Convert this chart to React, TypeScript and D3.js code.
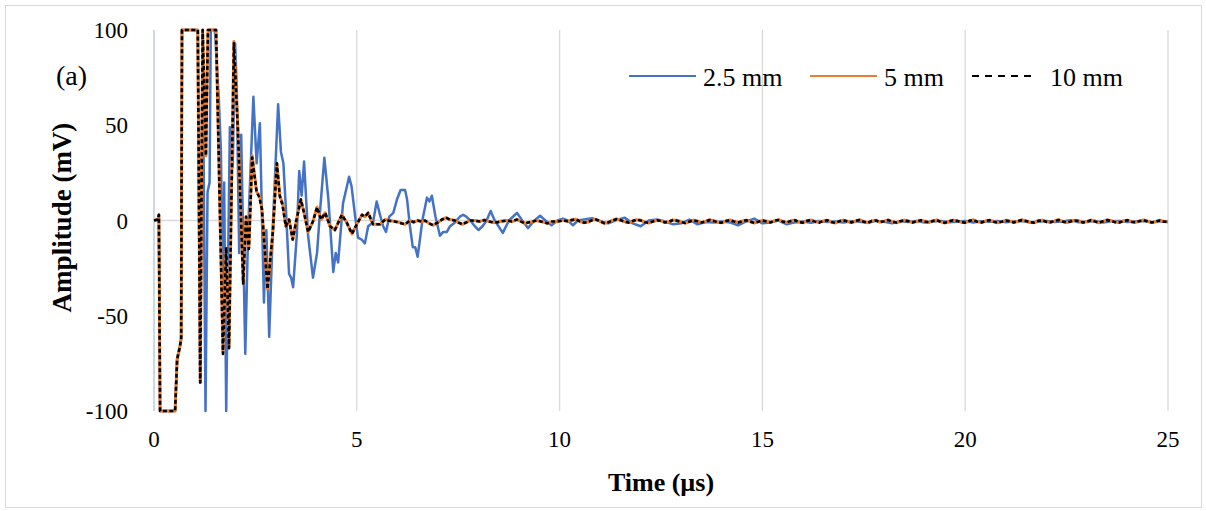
import React, { useRef, useEffect } from 'react';
import * as d3 from 'd3';

// values: [time (µs), amplitude (mV)]
const early25mm: [number, number][] = [
  [0, 0], [0.1, 0.5], [0.12, 3], [0.15, -100], [0.52, -100], [0.57, -73], [0.64, -66], [0.67, -62],
  [0.69, 100], [1.08, 100], [1.14, -85], [1.2, 100], [1.27, -100], [1.32, 15], [1.37, 20], [1.4, 100],
  [1.5, 100], [1.6, 63], [1.65, 36], [1.7, -50], [1.73, 20], [1.78, -100], [1.87, 49], [1.94, 28],
  [2.0, 93], [2.04, 70], [2.1, -17], [2.15, 45], [2.25, -70], [2.32, -6], [2.45, 65], [2.53, 30],
  [2.61, 51], [2.71, -43], [2.77, -5], [2.84, -61], [2.94, 2], [3.06, 61], [3.13, 36], [3.19, 30],
  [3.25, 7], [3.33, -28], [3.38, -30], [3.43, -35], [3.52, -8], [3.58, 26], [3.64, 13], [3.7, 31],
  [3.8, -8], [3.92, -30], [4.02, -17], [4.09, 4], [4.2, 33], [4.3, 11], [4.42, -27], [4.48, -17],
  [4.54, -22], [4.66, 9], [4.81, 23], [4.87, 18], [4.96, 2], [5.03, -9], [5.12, -10], [5.2, -12],
  [5.28, -3], [5.4, -1], [5.49, 10], [5.56, 4], [5.65, -3], [5.72, -6], [5.8, 2], [5.9, 4],
  [5.99, 11], [6.08, 16], [6.19, 16], [6.24, 11], [6.31, -3], [6.38, -14], [6.44, -14], [6.5, -19],
  [6.62, 0.5], [6.73, 12], [6.79, 10], [6.85, 13], [6.94, 2], [7.05, -8], [7.13, -6], [7.22, -6],
  [7.3, -3], [7.42, -1], [7.54, 2], [7.62, 3], [7.7, 2], [7.8, 0], [7.91, -3], [8.0, -5],
  [8.1, -3], [8.2, 0], [8.3, 5], [8.4, 0], [8.6, -6.5], [8.75, 0], [8.95, 4], [9.08, 0],
  [9.22, -4], [9.38, 0], [9.52, 2.5], [9.65, 0], [9.8, -2.5], [9.95, 0], [10.08, 1], [10.2, 0],
  [10.33, -2.5], [10.45, 0],
];
const tail25mmStart = 10.6;
const tail25mmStep = 0.2;
const tail25mm = [
  0.5, 1.2, -0.5, -1.5, 0.2, 1.5, -1.5, -3.0, 0.0, 0.5,
  -0.5, -2.0, -1.5, 0.5, -2.0, -0.8, -1.0, -0.5, -1.0, -2.5,
  -0.5, 1.0, -1.5, -1.0, 0.0, -2.0, -1.0, -0.5, -1.2, -0.3,
  -0.8, -0.5, -1.0, -0.4, -0.6, -1.2, -0.2, -0.7, -1.5, -0.4,
  -0.8, -0.3, -1.0, -0.5, -0.2, -0.9, -0.6, -0.3, -1.0, -0.4,
  -0.7, -0.2, -0.9, -0.5, -0.3, -1.0, -0.6, -0.2, -0.8, -0.5,
  0.1, -0.9, -0.6, -0.3, -1.0, -0.4, -0.2, -0.8, -0.5, -0.3,
  -0.9, -0.4, -0.6,
];

const early5mm: [number, number][] = [
  [0, 0], [0.1, 0.5], [0.12, 3], [0.15, -100], [0.52, -100], [0.57, -73], [0.64, -66], [0.67, -62],
  [0.69, 100], [1.08, 100], [1.14, -85], [1.2, 100], [1.28, 34], [1.33, 100], [1.53, 100], [1.7, -69],
  [1.78, -15], [1.85, -66], [1.97, 94], [2.07, 48], [2.2, -33], [2.27, 2], [2.34, -14], [2.42, 34],
  [2.53, 15], [2.6, 13], [2.66, 6], [2.8, -36], [2.93, -6], [3.03, 30], [3.1, 13], [3.17, 9],
  [3.25, -3], [3.33, 0.5], [3.42, -10], [3.5, -1], [3.62, 11], [3.7, 4], [3.8, -6], [3.92, -0.5],
  [4.02, 7], [4.12, 0.5], [4.22, 4], [4.34, -3], [4.46, -5], [4.63, 3], [4.75, -1], [4.88, -7],
  [5.0, -2], [5.13, 3], [5.2, 2], [5.28, 4], [5.4, -2], [5.57, -2], [5.7, 0.5], [5.82, 0],
  [5.94, -0.5], [6.05, -1], [6.19, -2], [6.31, 0], [6.4, -1], [6.5, 0], [6.6, -0.5], [6.68, 0],
  [6.78, -1.5], [6.88, -2.5], [7.0, -1], [7.1, 0.5], [7.2, 1.5], [7.3, 0.5], [7.42, 0], [7.5, -1],
  [7.6, -2], [7.7, -1], [7.8, 0], [7.92, 0], [8.04, -0.5], [8.15, 0.3], [8.25, -0.5], [8.36, -1],
  [8.45, -1], [8.58, -0.3], [8.7, 0], [8.82, -0.6], [8.95, 0.5], [9.05, -0.5], [9.15, -1.5], [9.3, -0.8],
  [9.44, 0], [9.58, -0.7], [9.7, -1.5], [9.82, -0.6], [9.95, -0.5], [10.1, 0.2],
];
const early10mm: [number, number][] = [
  [0, 0], [0.1, 0.5], [0.12, 3], [0.15, -100], [0.52, -100], [0.57, -73], [0.64, -66], [0.67, -62],
  [0.69, 100], [1.08, 100], [1.14, -85], [1.2, 100], [1.28, 34], [1.33, 100], [1.53, 100], [1.7, -70],
  [1.78, -14], [1.85, -67], [1.97, 93], [2.07, 47], [2.2, -33], [2.27, 2], [2.34, -15], [2.42, 33],
  [2.53, 15], [2.6, 12], [2.66, 6], [2.8, -36], [2.93, -6], [3.03, 30], [3.1, 13], [3.17, 8],
  [3.25, -3], [3.33, 0.5], [3.42, -10], [3.5, -1], [3.62, 11], [3.7, 4], [3.8, -6], [3.92, -0.5],
  [4.02, 7], [4.12, 0.5], [4.22, 4], [4.34, -3], [4.46, -5], [4.63, 3], [4.75, -1], [4.88, -7],
  [5.0, -2], [5.13, 3], [5.2, 2], [5.28, 4], [5.4, -2], [5.57, -2], [5.7, 0.5], [5.82, -0.3],
  [5.94, -0.5], [6.05, -1.2], [6.19, -2], [6.31, 0], [6.4, -0.8], [6.5, 0], [6.6, -0.6], [6.68, 0],
  [6.78, -1.5], [6.88, -2.5], [7.0, -1], [7.1, 0.5], [7.2, 1.5], [7.3, 0.4], [7.42, 0], [7.5, -1],
  [7.6, -2], [7.7, -1], [7.8, 0], [7.92, -0.2], [8.04, -0.5], [8.15, 0.2], [8.25, -0.5], [8.36, -1],
  [8.45, -1], [8.58, -0.4], [8.7, 0], [8.82, -0.5], [8.95, 0.5], [9.05, -0.6], [9.15, -1.5], [9.3, -0.7],
  [9.44, 0], [9.58, -0.8], [9.7, -1.5], [9.82, -0.5], [9.95, -0.5], [10.1, 0.1],
];
const tailStart = 10.2;
const tailStep = 0.1;
const tail5mm = [
  -0.5, 0.3, 0.6, -0.4, -1.2, -0.8, 0.2, 0.5, -0.3, -1.5,
  -1.0, 0.1, 0.8, 0.2, -0.6, -1.1, -0.4, 0.4, 0.1, -0.9,
  -1.3, -0.5, 0.2, -0.2, -1.0, -0.7, 0.3, 0.0, -0.8, -1.4,
  -0.6, 0.2, -0.3, -1.1, -0.5, 0.4, -0.2, -0.9, -1.2, -0.3,
  0.3, -0.5, -1.0, -0.4, 0.2, -0.6, -1.3, -0.7, 0.1, -0.4,
  -1.0, -0.2, 0.4, -0.5, -1.1, -0.3, 0.2, -0.8, -1.2, -0.1,
  0.3, -0.6, -1.0, -0.2, 0.1, -0.9, -1.3, -0.4, 0.2, -0.5,
  -1.1, -0.3, 0.4, -0.7, -1.2, -0.2, 0.1, -0.8, -0.4, 0.3,
  -0.6, -1.2, -0.5, 0.2, -0.3, -1.0, -0.6, 0.1, -0.4, -1.1,
  -0.2, 0.3, -0.7, -1.3, -0.5, 0.2, -0.1, -0.9, -1.0, -0.2,
  0.4, -0.6, -1.1, -0.3, 0.2, -0.5, -1.2, -0.6, 0.1, -0.3,
  -1.0, -0.4, 0.3, -0.2, -0.9, -1.2, -0.1, 0.2, -0.6, -1.0,
  -0.3, 0.4, -0.5, -1.1, -0.6, 0.1, -0.2, -1.0, -0.7, 0.2,
  -0.4, -1.2, -0.5, 0.3, -0.1, -0.8, -1.1, -0.2, 0.2, -0.6,
  -1.0, -0.3, 0.3, -0.4, -1.1, -0.6, 0.1, -0.5, -0.8,
];
const tail10mm = [
  -0.4, 0.2, 0.6, -0.5, -1.1, -0.8, 0.1, 0.5, -0.4, -1.4,
  -1.0, 0.0, 0.7, 0.2, -0.7, -1.1, -0.3, 0.4, 0.0, -0.9,
  -1.2, -0.5, 0.1, -0.3, -1.0, -0.6, 0.3, -0.1, -0.8, -1.3,
  -0.6, 0.1, -0.4, -1.1, -0.4, 0.3, -0.2, -1.0, -1.1, -0.3,
  0.2, -0.5, -1.1, -0.4, 0.1, -0.7, -1.2, -0.6, 0.1, -0.5,
  -1.0, -0.1, 0.3, -0.6, -1.0, -0.3, 0.1, -0.8, -1.1, -0.2,
  0.2, -0.6, -1.1, -0.3, 0.1, -0.8, -1.2, -0.4, 0.1, -0.6,
  -1.0, -0.2, 0.3, -0.7, -1.1, -0.3, 0.0, -0.9, -0.4, 0.2,
  -0.6, -1.1, -0.4, 0.1, -0.4, -1.0, -0.5, 0.1, -0.5, -1.0,
  -0.3, 0.2, -0.8, -1.2, -0.5, 0.1, -0.2, -0.9, -1.1, -0.2,
  0.3, -0.7, -1.0, -0.3, 0.1, -0.6, -1.1, -0.6, 0.0, -0.4,
  -1.0, -0.3, 0.2, -0.3, -0.9, -1.1, -0.2, 0.1, -0.7, -0.9,
  -0.3, 0.3, -0.6, -1.0, -0.5, 0.0, -0.3, -1.0, -0.6, 0.1,
  -0.5, -1.1, -0.4, 0.2, -0.2, -0.9, -1.0, -0.3, 0.1, -0.7,
  -0.9, -0.3, 0.2, -0.5, -1.0, -0.5, 0.0, -0.6, -0.7,
];

const xTicks = [0, 5, 10, 15, 20, 25];
const yTicks = [-100, -50, 0, 50, 100];
const seriesNames = ['2.5 mm', '5 mm', '10 mm'];
const seriesColors = ['#4472C4', '#ED7D31', '#000000'];

const withTail = (early: [number, number][], start: number, step: number, tail: number[]) =>
  early.concat(tail.map((v, i) => [start + i * step, v] as [number, number]));

const App = () => {
  const svgRef = useRef<SVGSVGElement>(null);

  useEffect(() => {
    const width = 1206;
    const height = 511;
    const font = '"Times New Roman", "Liberation Serif", serif';

    const svg = d3.select(svgRef.current)
      .attr('width', width)
      .attr('height', height);
    svg.selectAll('*').remove();

    const x = d3.scaleLinear().domain([0, 25]).range([154, 1168]);
    const y = d3.scaleLinear().domain([-100, 100]).range([411, 30]);

    // chart frame
    svg.append('rect')
      .attr('x', 5.5).attr('y', 5.5)
      .attr('width', 1196).attr('height', 502)
      .attr('fill', '#fff')
      .attr('stroke', '#d9d9d9');

    // vertical gridlines
    svg.selectAll('.grid')
      .data(xTicks)
      .enter()
      .append('line')
      .attr('x1', d => x(d)).attr('x2', d => x(d))
      .attr('y1', y(100)).attr('y2', y(-100))
      .attr('stroke', d => d === 0 ? '#b4c1dc' : '#d9d9d9')
      .attr('stroke-width', 1.3);

    // horizontal axis line at 0
    svg.append('line')
      .attr('x1', x(0)).attr('x2', x(25))
      .attr('y1', y(0)).attr('y2', y(0))
      .attr('stroke', '#d9d9d9')
      .attr('stroke-width', 1.3);

    const line = d3.line<[number, number]>()
      .x(d => x(d[0]))
      .y(d => y(d[1]));

    const data = [
      withTail(early25mm, tail25mmStart, tail25mmStep, tail25mm),
      withTail(early5mm, tailStart, tailStep, tail5mm),
      withTail(early10mm, tailStart, tailStep, tail10mm),
    ];

    data.forEach((d, i) => {
      svg.append('path')
        .datum(d)
        .attr('d', line)
        .attr('fill', 'none')
        .attr('stroke', seriesColors[i])
        .attr('stroke-width', i === 0 ? 2.5 : i === 1 ? 3 : 2.6)
        .attr('stroke-linejoin', 'round')
        .attr('stroke-dasharray', i === 2 ? '4,2.5' : null);
    });

    // y tick labels
    svg.selectAll('.ylab')
      .data(yTicks)
      .enter()
      .append('text')
      .attr('x', 128)
      .attr('y', d => y(d) + 8)
      .attr('text-anchor', 'end')
      .style('font-family', font)
      .style('font-size', '23px')
      .text(d => d);

    // x tick labels
    svg.selectAll('.xlab')
      .data(xTicks)
      .enter()
      .append('text')
      .attr('x', d => x(d))
      .attr('y', 447)
      .attr('text-anchor', 'middle')
      .style('font-family', font)
      .style('font-size', '23px')
      .text(d => d);

    // axis titles
    svg.append('text')
      .attr('x', x(12.5))
      .attr('y', 491)
      .attr('text-anchor', 'middle')
      .style('font-family', font)
      .style('font-size', '26px')
      .style('font-weight', 'bold')
      .text('Time (µs)');

    svg.append('text')
      .attr('transform', `translate(71,${y(0) - 3}) rotate(-90)`)
      .attr('text-anchor', 'middle')
      .style('font-family', font)
      .style('font-size', '27px')
      .style('font-weight', 'bold')
      .text('Amplitude (mV)');

    svg.append('text')
      .attr('x', 56)
      .attr('y', 85)
      .style('font-family', font)
      .style('font-size', '28px')
      .text('(a)');

    // legend
    const legendX = [629, 810, 972];
    const legend = svg.selectAll('.legend')
      .data(seriesNames)
      .enter()
      .append('g')
      .attr('transform', (d, i) => `translate(${legendX[i]},76)`);

    legend.append('line')
      .attr('x1', 0).attr('x2', (d, i) => i === 2 ? 62 : 67)
      .attr('y1', 0).attr('y2', 0)
      .attr('stroke', (d, i) => seriesColors[i])
      .attr('stroke-width', (d, i) => i === 2 ? 1.8 : 2)
      .attr('stroke-dasharray', (d, i) => i === 2 ? '7,6' : null);

    legend.append('text')
      .attr('x', (d, i) => i === 2 ? 78 : 74)
      .attr('y', 10)
      .style('font-family', font)
      .style('font-size', '26px')
      .text(d => d);
  }, []);

  return (
    <div style={{ position: 'absolute', left: 0, top: 0 }}>
      <svg ref={svgRef}></svg>
    </div>
  );
};

export default App;
